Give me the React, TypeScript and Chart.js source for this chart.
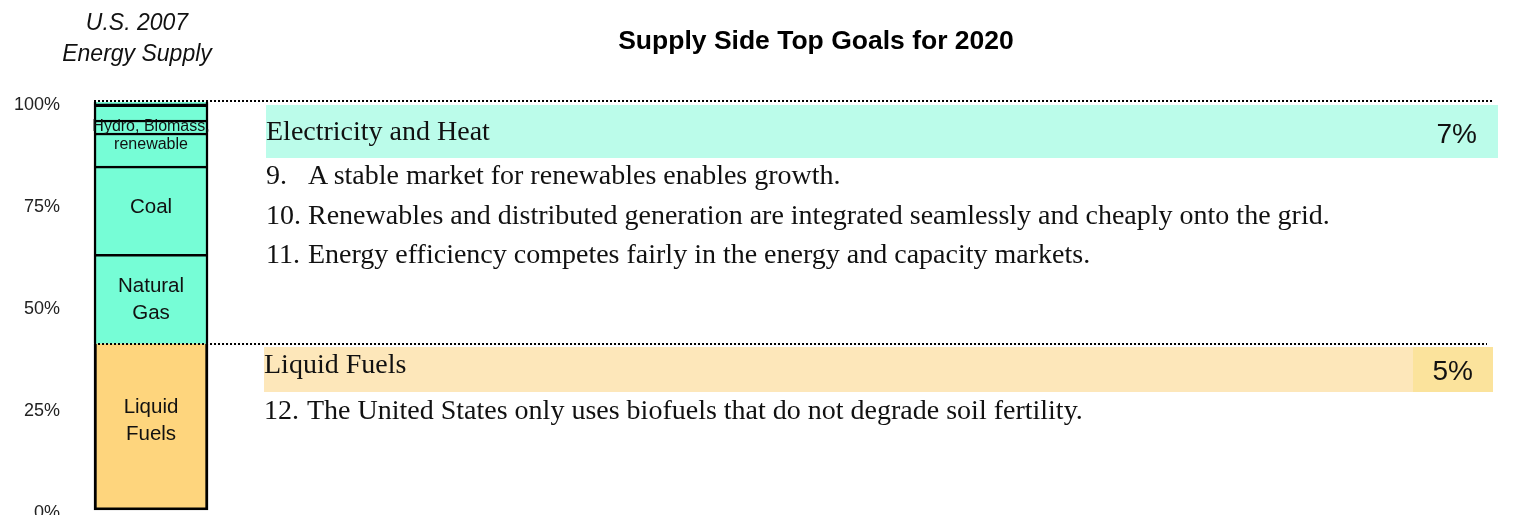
import React, { useEffect, useRef } from 'react';
import { Chart, registerables } from 'chart.js';

Chart.register(...registerables);

// ---------- data ----------
const categories = ['U.S. 2007'];
const segmentNames = ['Liquid Fuels', 'Natural Gas', 'Coal', 'renewable', 'Hydro, Biomass,', 'Other', 'Other2'];
const segmentLabelLines = [['Liquid', 'Fuels'], ['Natural', 'Gas'], ['Coal'], ['renewable'], ['Hydro, Biomass,'], [], []];
const segmentValues = [40.8, 21.9, 21.6, 8.1, 3.2, 3.7, 0.7];
const yTickValues = [0, 25, 50, 75, 100];
const sectionTitles = ['Electricity and Heat', 'Liquid Fuels'];
const sectionShares = ['7%', '5%'];
const electricityGoals = [
  ['9.', 'A stable market for renewables enables growth.'],
  ['10.', 'Renewables and distributed generation are integrated seamlessly and cheaply onto the grid.'],
  ['11.', 'Energy efficiency competes fairly in the energy and capacity markets.'],
];
const fuelGoals = [['12.', 'The United States only uses biofuels that do not degrade soil fertility.']];

// ---------- styles ----------
const TEAL = '#76FDD6';
const GOLD = '#FED57D';
const segmentColors = [GOLD, TEAL, TEAL, TEAL, TEAL, TEAL, TEAL];
const labelStyles = [
  { size: 20.5, dy: -6 },
  { size: 20.5, dy: 1 },
  { size: 20.5, dy: -3 },
  { size: 16, dy: -5 },
  { size: 16, dy: 0 },
  { size: 16, dy: 0 },
  { size: 16, dy: 0 },
];
const SANS = '"Liberation Sans", Arial, Helvetica, sans-serif';
const SERIF = '"Liberation Serif", "Times New Roman", serif';

const segmentLabelPlugin = {
  id: 'segmentLabels',
  afterDatasetsDraw(chart: any) {
    const ctx = chart.ctx;
    ctx.save();
    ctx.fillStyle = '#111';
    ctx.textAlign = 'center';
    ctx.textBaseline = 'middle';
    chart.data.datasets.forEach((ds: any, i: number) => {
      const el = chart.getDatasetMeta(i).data[0];
      if (!el) return;
      const lines = segmentLabelLines[i];
      const st = labelStyles[i];
      const lh = st.size * 1.3;
      const cy = (el.y + el.base) / 2 + st.dy;
      ctx.font = `${st.size}px ${SANS}`;
      lines.forEach((t, k) => {
        ctx.fillText(t, el.x, cy + (k - (lines.length - 1) / 2) * lh);
      });
    });
    ctx.restore();
  },
  afterDraw(chart: any) {
    const ctx = chart.ctx;
    const y = chart.scales.y;
    const el = chart.getDatasetMeta(0).data[0];
    const left = el.x - el.width / 2;
    ctx.save();
    ctx.strokeStyle = '#000';
    ctx.lineWidth = 2;
    ctx.setLineDash([2, 2]);
    const topY = Math.round(y.getPixelForValue(100)) - 1;
    ctx.beginPath();
    ctx.moveTo(left, topY);
    ctx.lineTo(1493, topY);
    ctx.stroke();
    const fy = Math.round(y.getPixelForValue(segmentValues[0]));
    ctx.beginPath();
    ctx.moveTo(left, fy);
    ctx.lineTo(1487, fy);
    ctx.stroke();
    ctx.restore();
  },
};

function BarChart() {
  const ref = useRef<HTMLCanvasElement>(null);
  useEffect(() => {
    if (!ref.current) return;
    const n = segmentValues.length;
    const chart = new Chart(ref.current, {
      type: 'bar',
      data: {
        labels: categories,
        datasets: segmentValues.map((v, i) => ({
          label: segmentNames[i],
          data: [v],
          backgroundColor: segmentColors[i],
          borderColor: '#000',
          borderWidth: i === 0 ? 3 : 2.5,
          borderSkipped: i === 0 ? 'top' : i === n - 1 ? 'top' : 'bottom',
          barThickness: 114,
        })),
      },
      options: {
        responsive: false,
        animation: false,
        layout: { padding: { left: 8, right: 1297, top: 102, bottom: 6 } },
        plugins: { legend: { display: false }, tooltip: { enabled: false }, title: { display: false } },
        scales: {
          x: { stacked: true, display: false },
          y: {
            stacked: true,
            min: 0,
            max: 100,
            afterBuildTicks: (scale: any) => {
              scale.ticks = yTickValues.map((v) => ({ value: v }));
            },
            grid: { display: false },
            border: { display: false },
            ticks: {
              padding: 6,
              color: '#222',
              font: { family: SANS, size: 18 },
              labelOffset: 3,
              callback: (v: any) => `${v}%`,
            },
          },
        },
      },
      plugins: [segmentLabelPlugin],
    });
    return () => chart.destroy();
  }, []);
  return <canvas ref={ref} width={1525} height={527} style={{ position: 'absolute', left: 0, top: 0 }} />;
}

const abs = (x: number, y: number, extra: any = {}) => ({ position: 'absolute' as const, left: x, top: y, whiteSpace: 'nowrap' as const, ...extra });

export default function App() {
  const serifText = { fontFamily: SERIF, fontSize: 28, color: '#111', lineHeight: '32px' };
  return (
    <div style={{ position: 'fixed', left: 0, top: 0, width: 1525, height: 515, background: '#fff', overflow: 'hidden' }}>
      {/* panels */}
      <div style={abs(266, 105, { width: 1232, height: 53, background: '#BBFCEA' })} />
      <div style={abs(264, 347, { width: 1149, height: 45, background: '#FDE7BA' })} />
      <div style={abs(1413, 347, { width: 80, height: 45, background: '#FBE39C' })} />
      <BarChart />
      {/* titles */}
      <div style={abs(0, 7, { width: 274, textAlign: 'center', fontFamily: SANS, fontStyle: 'italic', fontSize: 23, lineHeight: '31px', color: '#111' })}>
        U.S. 2007<br />Energy Supply
      </div>
      <div style={abs(516, 24, { width: 600, textAlign: 'center', fontFamily: SANS, fontWeight: 'bold', fontSize: 26.5, lineHeight: '32px', color: '#000' })}>
        Supply Side Top Goals for 2020
      </div>
      {/* section 1 */}
      <div style={abs(266, 115, serifText)}>{sectionTitles[0]}</div>
      <div style={abs(1377, 118, { width: 100, textAlign: 'right', fontFamily: SANS, fontSize: 28, lineHeight: '32px', color: '#111' })}>{sectionShares[0]}</div>
      {electricityGoals.map((g, i) => (
        <React.Fragment key={i}>
          <div style={abs(266, 159 + i * 39.7, serifText)}>{g[0]}</div>
          <div style={abs(308, 159 + i * 39.7, serifText)}>{g[1]}</div>
        </React.Fragment>
      ))}
      {/* section 2 */}
      <div style={abs(264, 348, serifText)}>{sectionTitles[1]}</div>
      <div style={abs(1373, 355, { width: 100, textAlign: 'right', fontFamily: SANS, fontSize: 28, lineHeight: '32px', color: '#111' })}>{sectionShares[1]}</div>
      {fuelGoals.map((g, i) => (
        <React.Fragment key={i}>
          <div style={abs(264, 394, serifText)}>{g[0]}</div>
          <div style={abs(307, 394, serifText)}>{g[1]}</div>
        </React.Fragment>
      ))}
    </div>
  );
}
